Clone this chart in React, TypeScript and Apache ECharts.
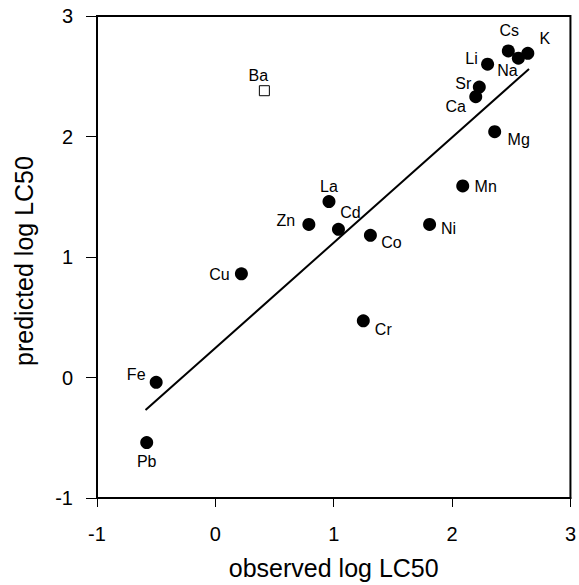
import React, { useEffect, useRef } from "react";
import * as echarts from "echarts";

const elements = ["Pb", "Fe", "Cu", "Zn", "La", "Cd", "Co", "Ni", "Cr", "Mn", "Mg", "Ca", "Sr", "Li", "Cs", "Na", "K"];
const observed = [-0.58, -0.5, 0.22, 0.79, 0.96, 1.04, 1.31, 1.81, 1.25, 2.09, 2.36, 2.2, 2.23, 2.3, 2.475, 2.56, 2.64];
const predicted = [-0.54, -0.04, 0.86, 1.27, 1.46, 1.23, 1.18, 1.27, 0.47, 1.59, 2.04, 2.33, 2.41, 2.6, 2.71, 2.65, 2.69];

const outlierName = ["Ba"];
const outlierObserved = [0.414];
const outlierPredicted = [2.38];

const fitObserved = [-0.59, 2.65];
const fitPredicted = [-0.27, 2.56];

const axisTicks = [-1, 0, 1, 2, 3];

// label offsets (style only): label centre relative to marker centre, px
const labelOffsets: Record<string, [number, number]> = {
  Pb: [0, 19],
  Fe: [-20, -8],
  Cu: [-22, 1],
  Zn: [-23, -4],
  La: [0, -15],
  Cd: [12, -17],
  Co: [21, 7],
  Ni: [19, 4],
  Cr: [20, 9],
  Mn: [23, 1],
  Mg: [24, 8],
  Ca: [-20, 10],
  Sr: [-16, -4],
  Li: [-16, -6],
  Cs: [1, -20],
  Na: [-11, 12],
  K: [17, -15],
  Ba: [-6, -15],
};

const FONT = "'Liberation Sans', Arial, sans-serif";

export default function App() {
  const ref = useRef<HTMLDivElement>(null);
  useEffect(() => {
    document.body.style.margin = "0";
    if (!ref.current) return;
    const chart = echarts.init(ref.current, undefined, { renderer: "svg" });
    const lbl = (name: string) => ({
      show: true,
      formatter: name,
      position: "inside" as const,
      offset: labelOffsets[name] || [0, -15],
      color: "#000",
      fontSize: 16,
      fontFamily: FONT,
    });
    chart.setOption({
      animation: false,
      backgroundColor: "#fff",
      grid: {
        left: 97,
        right: 2,
        top: 16,
        bottom: 87,
        show: true,
        borderColor: "#000",
        borderWidth: 2,
        backgroundColor: "transparent",
      },
      xAxis: {
        type: "value",
        min: axisTicks[0],
        max: axisTicks[axisTicks.length - 1],
        interval: 1,
        name: "observed log LC50",
        nameLocation: "middle",
        nameGap: 57,
        nameTextStyle: { fontSize: 25, fontFamily: FONT, color: "#000" },
        axisLine: { show: true, onZero: false, lineStyle: { color: "#000", width: 2 } },
        axisTick: { show: true, length: 9, lineStyle: { color: "#000", width: 1 } },
        axisLabel: { margin: 26, fontSize: 20, fontFamily: FONT, color: "#000", showMaxLabel: true },
        splitLine: { show: false },
      },
      yAxis: {
        type: "value",
        min: axisTicks[0],
        max: axisTicks[axisTicks.length - 1],
        interval: 1,
        name: "predicted log LC50",
        nameLocation: "middle",
        nameGap: 61,
        nameTextStyle: { fontSize: 25, fontFamily: FONT, color: "#000", padding: [0, 8, 0, 0] },
        axisLine: { show: true, onZero: false, lineStyle: { color: "#000", width: 2 } },
        axisTick: { show: true, length: 11, lineStyle: { color: "#000", width: 1 } },
        axisLabel: { margin: 24, fontSize: 20, fontFamily: FONT, color: "#000" },
        splitLine: { show: false },
      },
      series: [
        {
          type: "line",
          data: fitObserved.map((x, i) => [x, fitPredicted[i]]),
          showSymbol: false,
          symbol: "none",
          lineStyle: { color: "#000", width: 2 },
          z: 1,
        },
        {
          type: "scatter",
          symbol: "circle",
          symbolSize: 13,
          itemStyle: { color: "#000", opacity: 1 },
          data: elements.map((n, i) => ({ value: [observed[i], predicted[i]], name: n, label: lbl(n) })),
          z: 3,
        },
        {
          type: "scatter",
          symbol: "rect",
          symbolSize: 10,
          itemStyle: { color: "#fff", borderColor: "#000", borderWidth: 1, opacity: 1 },
          data: outlierName.map((n, i) => ({ value: [outlierObserved[i], outlierPredicted[i]], name: n, label: lbl(n) })),
          z: 3,
        },
      ],
    });
    return () => chart.dispose();
  }, []);
  return <div ref={ref} style={{ width: 579, height: 585 }} />;
}
